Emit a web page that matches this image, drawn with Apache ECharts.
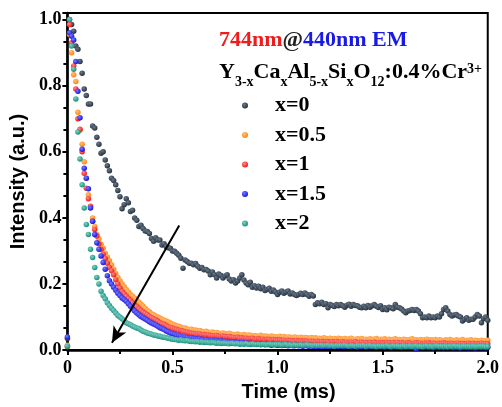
<!DOCTYPE html>
<html><head><meta charset="utf-8">
<script src="https://cdn.jsdelivr.net/npm/echarts@6/dist/echarts.min.js"></script>
<style>html,body{margin:0;padding:0;background:#fff}#c{width:502px;height:407px}</style>
</head><body><div id="c"></div>
<script>
const times = [
0,0.01,0.02,0.03,0.04,0.05,0.06,0.07,0.08,0.09,
0.1,0.11,0.12,0.13,0.14,0.15,0.16,0.17,0.18,0.19,
0.2,0.21,0.22,0.23,0.24,0.25,0.26,0.27,0.28,0.29,
0.3,0.31,0.32,0.33,0.34,0.35,0.36,0.37,0.38,0.39,
0.4,0.41,0.42,0.43,0.44,0.45,0.46,0.47,0.48,0.49,
0.5,0.51,0.52,0.53,0.54,0.55,0.56,0.57,0.58,0.59,
0.6,0.61,0.62,0.63,0.64,0.65,0.66,0.67,0.68,0.69,
0.7,0.71,0.72,0.73,0.74,0.75,0.76,0.77,0.78,0.79,
0.8,0.81,0.82,0.83,0.84,0.85,0.86,0.87,0.88,0.89,
0.9,0.91,0.92,0.93,0.94,0.95,0.96,0.97,0.98,0.99,
1.0,1.01,1.02,1.03,1.04,1.05,1.06,1.07,1.08,1.09,
1.1,1.11,1.12,1.13,1.14,1.15,1.16,1.17,1.18,1.19,
1.2,1.21,1.22,1.23,1.24,1.25,1.26,1.27,1.28,1.29,
1.3,1.31,1.32,1.33,1.34,1.35,1.36,1.37,1.38,1.39,
1.4,1.41,1.42,1.43,1.44,1.45,1.46,1.47,1.48,1.49,
1.5,1.51,1.52,1.53,1.54,1.55,1.56,1.57,1.58,1.59,
1.6,1.61,1.62,1.63,1.64,1.65,1.66,1.67,1.68,1.69,
1.7,1.71,1.72,1.73,1.74,1.75,1.76,1.77,1.78,1.79,
1.8,1.81,1.82,1.83,1.84,1.85,1.86,1.87,1.88,1.89,
1.9,1.91,1.92,1.93,1.94,1.95,1.96,1.97,1.98,1.99,
2.0];

const seriesNames = ['x=0','x=0.5','x=1','x=1.5','x=2'];

const valsX0 = [
0.035,1.0,0.985,0.965,0.92,0.91,0.873,0.838,0.79,0.77,
0.745,0.745,0.678,0.672,0.644,0.623,0.596,0.60,0.575,0.558,
0.543,0.52,0.513,0.50,0.483,0.464,0.428,0.44,0.458,0.446,
0.419,0.423,0.40,0.393,0.374,0.378,0.368,0.36,0.359,0.353,
0.338,0.329,0.34,0.333,0.333,0.318,0.322,0.313,0.31,0.308,
0.30,0.299,0.293,0.287,0.278,0.248,0.273,0.268,0.263,0.263,
0.258,0.262,0.254,0.248,0.25,0.243,0.244,0.239,0.228,0.236,
0.228,0.218,0.23,0.226,0.218,0.224,0.228,0.215,0.209,0.213,
0.203,0.209,0.218,0.228,0.212,0.203,0.198,0.205,0.19,0.195,
0.188,0.193,0.186,0.19,0.18,0.183,0.187,0.178,0.182,0.176,
0.168,0.175,0.179,0.172,0.176,0.179,0.17,0.173,0.168,0.165,
0.168,0.172,0.168,0.173,0.168,0.163,0.168,0.164,0.138,0.143,
0.14,0.145,0.138,0.14,0.128,0.138,0.135,0.132,0.138,0.134,
0.138,0.134,0.13,0.136,0.139,0.133,0.138,0.135,0.134,0.13,
0.128,0.133,0.128,0.135,0.13,0.134,0.138,0.133,0.129,0.134,
0.123,0.128,0.122,0.13,0.128,0.125,0.138,0.13,0.128,0.124,
0.118,0.113,0.118,0.12,0.123,0.12,0.123,0.118,0.11,0.098,
0.1,0.098,0.103,0.098,0.1,0.098,0.103,0.1,0.11,0.123,
0.128,0.118,0.108,0.103,0.106,0.108,0.103,0.1,0.088,0.093,
0.098,0.09,0.093,0.093,0.1,0.108,0.103,0.083,0.095,0.1,
0.09];

const valsX05 = [
0.015,0.955,0.90,0.833,0.813,0.72,0.665,0.623,0.57,0.52,
0.47,0.434,0.40,0.374,0.35,0.337,0.32,0.308,0.293,0.282,
0.27,0.258,0.245,0.232,0.22,0.21,0.2,0.192,0.183,0.176,
0.168,0.163,0.157,0.15,0.145,0.139,0.133,0.126,0.12,0.116,
0.11,0.107,0.103,0.1,0.097,0.093,0.09,0.088,0.085,0.082,
0.079,0.077,0.073,0.072,0.069,0.066,0.067,0.064,0.062,0.063,
0.06,0.061,0.058,0.059,0.056,0.055,0.057,0.054,0.053,0.055,
0.052,0.053,0.051,0.05,0.052,0.05,0.049,0.051,0.048,0.047,
0.047,0.049,0.046,0.045,0.047,0.044,0.046,0.045,0.043,0.044,
0.043,0.042,0.045,0.041,0.043,0.042,0.04,0.043,0.041,0.04,
0.04,0.042,0.039,0.041,0.038,0.04,0.039,0.037,0.04,0.038,
0.037,0.039,0.036,0.038,0.037,0.035,0.038,0.036,0.037,0.035,
0.036,0.034,0.037,0.035,0.033,0.036,0.034,0.035,0.033,0.036,
0.034,0.033,0.035,0.032,0.034,0.036,0.033,0.032,0.034,0.033,
0.035,0.032,0.033,0.031,0.034,0.032,0.033,0.035,0.031,0.033,
0.032,0.034,0.031,0.033,0.03,0.032,0.034,0.031,0.032,0.03,
0.033,0.031,0.03,0.032,0.034,0.03,0.031,0.029,0.032,0.03,
0.031,0.033,0.029,0.031,0.03,0.032,0.029,0.031,0.03,0.028,
0.031,0.029,0.032,0.03,0.028,0.031,0.029,0.03,0.032,0.028,
0.03,0.029,0.031,0.028,0.03,0.029,0.027,0.03,0.029,0.028,
0.03];

const valsX1 = [
0.01,0.985,0.93,0.86,0.79,0.70,0.668,0.60,0.535,0.49,
0.458,0.435,0.39,0.365,0.345,0.322,0.305,0.29,0.277,0.263,
0.25,0.24,0.228,0.213,0.2,0.188,0.177,0.17,0.163,0.156,
0.15,0.143,0.137,0.131,0.125,0.12,0.115,0.111,0.107,0.102,
0.098,0.095,0.092,0.087,0.083,0.08,0.078,0.074,0.07,0.068,
0.066,0.064,0.062,0.06,0.059,0.057,0.055,0.054,0.052,0.051,
0.05,0.049,0.048,0.049,0.046,0.047,0.045,0.046,0.044,0.043,
0.043,0.044,0.042,0.041,0.043,0.041,0.04,0.041,0.039,0.038,
0.037,0.039,0.036,0.037,0.035,0.036,0.034,0.035,0.036,0.033,
0.033,0.034,0.032,0.033,0.031,0.033,0.032,0.03,0.032,0.031,
0.03,0.031,0.029,0.03,0.028,0.03,0.029,0.028,0.027,0.029,
0.027,0.028,0.026,0.028,0.027,0.025,0.027,0.026,0.025,0.027,
0.025,0.026,0.024,0.026,0.025,0.023,0.025,0.024,0.026,0.023,
0.024,0.025,0.023,0.024,0.022,0.024,0.023,0.025,0.022,0.023,
0.024,0.022,0.023,0.021,0.023,0.022,0.024,0.021,0.022,0.023,
0.022,0.021,0.023,0.022,0.02,0.022,0.021,0.023,0.02,0.022,
0.021,0.02,0.022,0.021,0.019,0.021,0.022,0.02,0.021,0.019,
0.021,0.02,0.022,0.019,0.021,0.02,0.019,0.021,0.02,0.022,
0.02,0.019,0.021,0.02,0.018,0.02,0.021,0.019,0.02,0.018,
0.02,0.021,0.019,0.02,0.018,0.02,0.019,0.021,0.019,0.02,
0.019];

const valsX15 = [
0.04,0.96,0.95,0.938,0.873,0.783,0.703,0.608,0.55,0.52,
0.488,0.43,0.39,0.35,0.325,0.305,0.285,0.265,0.245,0.225,
0.21,0.2,0.19,0.181,0.172,0.165,0.158,0.153,0.148,0.14,
0.133,0.125,0.118,0.112,0.107,0.102,0.098,0.094,0.09,0.086,
0.082,0.079,0.076,0.072,0.068,0.065,0.062,0.058,0.055,0.052,
0.05,0.048,0.045,0.044,0.042,0.04,0.039,0.038,0.036,0.037,
0.035,0.034,0.033,0.034,0.032,0.031,0.032,0.03,0.029,0.03,
0.028,0.029,0.027,0.028,0.026,0.027,0.026,0.025,0.024,0.025,
0.022,0.023,0.021,0.023,0.02,0.022,0.021,0.019,0.02,0.019,
0.018,0.019,0.017,0.018,0.016,0.018,0.017,0.015,0.017,0.016,
0.015,0.016,0.014,0.015,0.016,0.013,0.015,0.014,0.013,0.015,
0.013,0.014,0.012,0.014,0.013,0.012,0.014,0.011,0.013,0.012,
0.012,0.013,0.011,0.012,0.013,0.011,0.012,0.01,0.012,0.011,
0.012,0.011,0.01,0.012,0.011,0.01,0.012,0.011,0.009,0.011,
0.01,0.011,0.009,0.011,0.01,0.012,0.01,0.009,0.011,0.01,
0.01,0.009,0.011,0.01,0.008,0.01,0.011,0.009,0.01,0.008,
0.01,0.009,0.011,0.009,0.01,0.008,0.004,0.009,0.01,0.008,
0.009,0.01,0.008,0.009,0.007,0.009,0.01,0.008,0.009,0.007,
0.009,0.008,0.01,0.008,0.007,0.009,0.008,0.006,0.009,0.008,
0.008,0.007,0.009,0.008,0.006,0.008,0.009,0.007,0.008,0.007,
0.008];

const valsX2 = [
0.012,1.0,0.92,0.85,0.76,0.66,0.578,0.5,0.43,0.38,
0.35,0.305,0.28,0.25,0.22,0.2,0.178,0.165,0.155,0.143,
0.135,0.127,0.12,0.112,0.105,0.1,0.095,0.089,0.083,0.08,
0.077,0.073,0.07,0.067,0.065,0.061,0.057,0.055,0.052,0.05,
0.048,0.046,0.045,0.043,0.042,0.04,0.039,0.037,0.036,0.034,
0.033,0.032,0.031,0.03,0.031,0.029,0.028,0.029,0.027,0.026,
0.026,0.025,0.026,0.024,0.025,0.023,0.024,0.023,0.022,0.023,
0.022,0.021,0.022,0.02,0.021,0.021,0.02,0.019,0.021,0.02,
0.019,0.02,0.018,0.019,0.018,0.02,0.018,0.017,0.019,0.018,
0.017,0.018,0.016,0.018,0.017,0.016,0.018,0.017,0.016,0.017,
0.016,0.017,0.015,0.016,0.017,0.015,0.016,0.014,0.016,0.015,
0.015,0.016,0.014,0.015,0.016,0.014,0.015,0.013,0.015,0.014,
0.014,0.015,0.013,0.014,0.015,0.013,0.014,0.012,0.014,0.013,
0.014,0.013,0.015,0.013,0.012,0.014,0.013,0.012,0.014,0.013,
0.013,0.014,0.012,0.013,0.014,0.012,0.013,0.011,0.013,0.012,
0.013,0.012,0.014,0.012,0.011,0.013,0.012,0.013,0.011,0.012,
0.013,0.011,0.012,0.013,0.011,0.012,0.013,0.011,0.012,0.01,
0.012,0.013,0.011,0.012,0.01,0.012,0.013,0.011,0.012,0.011,
0.012,0.01,0.012,0.011,0.013,0.011,0.012,0.01,0.011,0.012,
0.011,0.012,0.01,0.012,0.011,0.01,0.012,0.011,0.012,0.01,
0.011];

const xTickLabels = ['0','0.5','1.0','1.5','2.0'];
const yTickLabels = ['0.0','0.2','0.4','0.6','0.8','1.0'];
const arrowFrom = [0.532, 0.377];
const arrowTo = [0.212, 0.022];

const SERIF = '"Liberation Serif","Times New Roman",serif';
const SANS = '"Liberation Sans",Arial,sans-serif';

const palette = [
  ['#6b7a8a','#243140'],
  ['#ffc07a','#ff8410'],
  ['#ff8a8a','#f01818'],
  ['#7a7aff','#1414e0'],
  ['#7fd0c4','#15907f']
];
function dotColor(p){
  return {type:'radial',x:0.38,y:0.35,r:0.65,colorStops:[{offset:0,color:p[0]},{offset:1,color:p[1]}]};
}
const allVals = [valsX0, valsX05, valsX1, valsX15, valsX2];

const series = allVals.map((vals, si) => ({
  name: seriesNames[si],
  type: 'scatter',
  symbol: 'circle',
  symbolSize: 5.5,
  itemStyle: {color: dotColor(palette[si]), opacity: 1},
  data: times.map((t, i) => [t, vals[i]]),
  z: 2 + si
}));
series[4].markLine = {
  silent: true,
  symbol: ['none', 'arrow'],
  symbolSize: [11, 16],
  lineStyle: {color: '#000', width: 2, type: 'solid'},
  itemStyle: {color: '#000'},
  label: {show: false},
  emphasis: {disabled: true},
  data: [[{coord: arrowFrom}, {coord: arrowTo}]],
  z: 10
};

const chart = echarts.init(document.getElementById('c'), null, {renderer: 'canvas'});
chart.setOption({
  animation: false,
  backgroundColor: '#fff',
  grid: {left: 67, right: 10, top: 13, bottom: 54.5, show: true, borderColor: '#000', borderWidth: 2, backgroundColor: 'transparent'},
  xAxis: {
    type: 'value', min: 0, max: 2, interval: 0.5,
    name: 'Time (ms)', nameLocation: 'middle', nameGap: 31,
    nameTextStyle: {fontFamily: SANS, fontWeight: 'bold', fontSize: 20, color: '#000', padding: [0,0,0,22]},
    axisLine: {show: true, onZero: false, lineStyle: {color: '#000', width: 2.5}},
    axisTick: {show: true, inside: false, length: 5, lineStyle: {color: '#000', width: 2}},
    minorTick: {show: true, splitNumber: 2, length: 4, lineStyle: {color: '#000', width: 2}},
    axisLabel: {fontFamily: SERIF, fontWeight: 'bold', fontSize: 18, color: '#000', margin: 9,
      formatter: v => xTickLabels[Math.round(v / 0.5)]},
    splitLine: {show: false}
  },
  yAxis: {
    type: 'value', min: 0, max: 1.02, interval: 0.2,
    name: 'Intensity (a.u.)', nameLocation: 'middle', nameGap: 34, nameRotate: 90,
    nameTextStyle: {fontFamily: SANS, fontWeight: 'bold', fontSize: 20, color: '#000'},
    axisLine: {show: true, onZero: false, lineStyle: {color: '#000', width: 2.5}},
    axisTick: {show: true, inside: false, length: 5, lineStyle: {color: '#000', width: 2}},
    minorTick: {show: true, splitNumber: 3, length: 4, lineStyle: {color: '#000', width: 2}},
    axisLabel: {fontFamily: SERIF, fontWeight: 'bold', fontSize: 18, color: '#000', margin: 6, showMaxLabel: false,
      formatter: v => { const i = Math.round(v / 0.2); return Math.abs(v - i * 0.2) < 1e-6 ? yTickLabels[i] : ''; }},
    splitLine: {show: false}
  },
  legend: {
    orient: 'vertical', left: 242, top: 94.5, padding: 0, itemGap: 7.5,
    itemWidth: 6, itemHeight: 6, icon: 'circle',
    data: seriesNames,
    textStyle: {fontFamily: SERIF, fontWeight: 'bold', fontSize: 22, color: '#000', lineHeight: 11, padding: [0,0,10,22]}
  },
  graphic: [
    {type: 'text', x: 219, y: 29, z: 100, style: {
      text: '{r|744nm}{k|@}{b|440nm EM}',
      rich: {
        r: {fontFamily: SERIF, fontWeight: 'bold', fontSize: 22, fill: '#ee1c1c'},
        k: {fontFamily: SERIF, fontWeight: 'bold', fontSize: 22, fill: '#222'},
        b: {fontFamily: SERIF, fontWeight: 'bold', fontSize: 22, fill: '#1a1ae6'}
      }
    }},
    {type: 'text', x: 219, y: 61, z: 100, style: {
      text: '{n|Y}{s|3-x}{n|Ca}{s|x}{n|Al}{s|5-x}{n|Si}{s|x}{n|O}{s|12}{n|:0.4%Cr}{p|3+}',
      rich: {
        n: {fontFamily: SERIF, fontWeight: 'bold', fontSize: 22, lineHeight: 22, fill: '#000'},
        s: {fontFamily: SERIF, fontWeight: 'bold', fontSize: 14, lineHeight: 22, fill: '#000', padding: [20,0,0,0]},
        p: {fontFamily: SERIF, fontWeight: 'bold', fontSize: 14, lineHeight: 22, fill: '#000', padding: [0,0,6,0]}
      }
    }}
  ],
  series: series
});
</script></body></html>
